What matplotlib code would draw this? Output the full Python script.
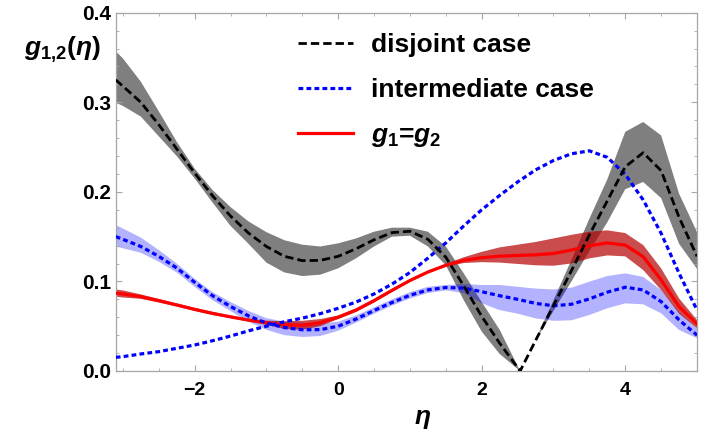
import matplotlib
matplotlib.use('Agg')
import matplotlib.pyplot as plt
from matplotlib.ticker import MultipleLocator, FormatStrFormatter
from matplotlib.lines import Line2D

plt.rcParams['font.family'] = ['Liberation Sans', 'DejaVu Sans']
plt.rcParams['font.weight'] = 'bold'
plt.rcParams['mathtext.fontset'] = 'custom'
plt.rcParams['mathtext.rm'] = 'Liberation Sans:bold'
plt.rcParams['mathtext.bf'] = 'Liberation Sans:bold'
plt.rcParams['mathtext.it'] = 'Liberation Sans:bold:italic'

# ---- data ----
eta = [-3.1, -3.0, -2.75, -2.5, -2.25, -2.0, -1.75, -1.5, -1.25, -1.0, -0.75, -0.5,
       -0.25, 0.0, 0.25, 0.5, 0.75, 1.0, 1.25, 1.5, 1.75, 2.0, 2.25, 2.5,
       2.75, 3.0, 3.25, 3.5, 3.75, 4.0, 4.25, 4.5, 4.75, 5.0]

# g1 = g2 (red)
red_mid = [0.087, 0.086, 0.083, 0.0785, 0.0737, 0.0688, 0.0643, 0.0604, 0.0568, 0.0538, 0.0515, 0.0510,
           0.0540, 0.0600, 0.0680, 0.0785, 0.0900, 0.1010, 0.1105, 0.1180, 0.1235, 0.1265, 0.1282, 0.1290,
           0.1297, 0.1312, 0.1350, 0.1398, 0.1430, 0.1405, 0.1276, 0.1016, 0.0718, 0.0525]
red_lo = [0.083, 0.082, 0.0805, 0.0765, 0.072, 0.067, 0.0625, 0.059, 0.0553, 0.0515, 0.047, 0.046,
          0.050, 0.058, 0.066, 0.0765, 0.0882, 0.0995, 0.109, 0.1165, 0.1205, 0.1215, 0.121, 0.1195,
          0.118, 0.1175, 0.120, 0.1257, 0.129, 0.128, 0.1127, 0.0904, 0.064, 0.0477]
red_hi = [0.091, 0.090, 0.0855, 0.0805, 0.0755, 0.0705, 0.066, 0.062, 0.0585, 0.0562, 0.0555, 0.056,
          0.058, 0.062, 0.070, 0.0805, 0.0918, 0.1025, 0.112, 0.1195, 0.127, 0.133, 0.138, 0.141,
          0.144, 0.148, 0.152, 0.1555, 0.157, 0.154, 0.1406, 0.1146, 0.081, 0.057]

# intermediate case, curve with band (blue)
blue_mid = [0.150, 0.147, 0.139, 0.128, 0.115, 0.099, 0.084, 0.072, 0.0615, 0.0535, 0.0485, 0.0460,
            0.0462, 0.0500, 0.0580, 0.0675, 0.0765, 0.0845, 0.0905, 0.0932, 0.0925, 0.0885, 0.0840, 0.0800,
            0.0755, 0.0728, 0.0745, 0.0805, 0.0880, 0.0935, 0.0905, 0.0774, 0.057, 0.040]
blue_lo = [0.139, 0.137, 0.132, 0.122, 0.110, 0.094, 0.079, 0.067, 0.055, 0.046, 0.040, 0.038,
           0.039, 0.045, 0.054, 0.064, 0.073, 0.081, 0.087, 0.090, 0.087, 0.0756, 0.068, 0.064,
           0.0588, 0.056, 0.0566, 0.0625, 0.070, 0.0755, 0.0744, 0.0644, 0.0458, 0.0365]
blue_hi = [0.163, 0.159, 0.149, 0.135, 0.120, 0.103, 0.088, 0.077, 0.067, 0.059, 0.055, 0.054,
           0.053, 0.055, 0.062, 0.071, 0.080, 0.088, 0.094, 0.096, 0.097, 0.096, 0.096, 0.094,
           0.092, 0.091, 0.093, 0.0997, 0.106, 0.109, 0.105, 0.0904, 0.066, 0.0477]

# intermediate case, second curve (no band)
blue2 = [0.0153, 0.016, 0.019, 0.0216, 0.0253, 0.029, 0.0338, 0.039, 0.0448, 0.050, 0.055, 0.059,
         0.064, 0.070, 0.077, 0.086, 0.097, 0.110, 0.126, 0.143, 0.162, 0.180, 0.196, 0.211,
         0.2245, 0.235, 0.2425, 0.2458, 0.2385, 0.2195, 0.191, 0.1537, 0.109, 0.068]

# disjoint case (black)
eta_dj = [-3.1, -3.0, -2.75, -2.5, -2.25, -2.0, -1.75, -1.5, -1.25, -1.0, -0.75, -0.5,
          -0.25, 0.0, 0.25, 0.5, 0.75, 1.0, 1.25, 1.5, 1.75, 2.0, 2.25, 2.535,
          2.75, 3.0, 3.25, 3.5, 3.75, 4.0, 4.25, 4.5, 4.75, 5.0]
dj_mid = [0.325, 0.318, 0.300, 0.275, 0.248, 0.221, 0.1955, 0.173, 0.154, 0.139, 0.128, 0.1232,
          0.1235, 0.1280, 0.1365, 0.1465, 0.1545, 0.1560, 0.1470, 0.1270, 0.0950, 0.0610, 0.0310, 0.0,
          0.034, 0.073, 0.112, 0.152, 0.190, 0.228, 0.2437, 0.2236, 0.1715, 0.128]
dj_lo = [0.2995, 0.296, 0.284, 0.262, 0.240, 0.215, 0.188, 0.162, 0.142, 0.121, 0.110, 0.106,
         0.1075, 0.1146, 0.1258, 0.139, 0.150, 0.151, 0.139, 0.118, 0.079, 0.044, 0.019, 0.0,
         0.034, 0.067, 0.100, 0.134, 0.166, 0.203, 0.211, 0.193, 0.142, 0.114]
dj_hi = [0.357, 0.349, 0.323, 0.290, 0.256, 0.226, 0.202, 0.183, 0.167, 0.155, 0.146, 0.141,
         0.139, 0.1425, 0.148, 0.1555, 0.160, 0.160, 0.1555, 0.139, 0.109, 0.077, 0.046, 0.0,
         0.034, 0.079, 0.124, 0.170, 0.214, 0.267, 0.278, 0.263, 0.198, 0.155]

labels = ['disjoint case', 'intermediate case', r'$g_1$=$g_2$']

# ---- figure ----
fig = plt.figure(figsize=(7.03, 4.46), dpi=100)
ax = fig.add_axes([0.1646, 0.1682, 0.8269, 0.8033])

BLACK_DASH = (3.0, 1.45)
BLUE_DOT = (1.5, 1.0)

ax.fill_between(eta_dj, dj_lo, dj_hi, facecolor='black', alpha=0.5, lw=0, zorder=1)
ax.fill_between(eta, blue_lo, blue_hi, facecolor='blue', alpha=0.3, lw=0, zorder=1)
ax.fill_between(eta, red_lo, red_hi, facecolor='#b40000', alpha=0.7, lw=0, zorder=1)

ax.plot(eta, red_mid, color='red', lw=2.3, zorder=3)
ax.plot(eta, blue_mid, color='blue', lw=2.3, dashes=BLUE_DOT, zorder=3)
ax.plot(eta, blue2, color='blue', lw=2.3, dashes=BLUE_DOT, zorder=3)
ax.plot(eta_dj, dj_mid, color='black', lw=2.0, dashes=BLACK_DASH, zorder=4)

ax.set_xlim(-3.1, 5.0)
ax.set_ylim(0, 0.4)
ax.xaxis.set_major_locator(MultipleLocator(2))
ax.xaxis.set_minor_locator(MultipleLocator(0.5))
ax.yaxis.set_major_locator(MultipleLocator(0.1))
ax.yaxis.set_minor_locator(MultipleLocator(0.02))
ax.yaxis.set_major_formatter(FormatStrFormatter('%.1f'))

for s in ax.spines.values():
    s.set_color('#a6a6a6')
    s.set_linewidth(0.9)
ax.tick_params(which='both', direction='in', top=True, right=True, color='#a6a6a6')
ax.tick_params(which='major', length=4.5, width=0.8)
ax.tick_params(which='minor', length=2.5, width=0.6)
ax.tick_params(axis='x', which='major', labelsize=14, pad=8)
ax.tick_params(axis='y', which='major', labelsize=15, pad=3.5)
for lab in ax.get_xticklabels() + ax.get_yticklabels():
    lab.set_fontweight('bold')

ax.text(-0.092, 0.896, r'$g_{1{,}2}(\eta)$', transform=ax.transAxes, ha='center', va='center',
        fontsize=19)
ax.text(0.527, -0.135, r'$\eta$', transform=ax.transAxes, ha='center', va='center',
        fontsize=19)

handles = [Line2D([], [], color='black', lw=2.0, dashes=BLACK_DASH),
           Line2D([], [], color='blue', lw=2.3, dashes=BLUE_DOT),
           Line2D([], [], color='red', lw=2.3)]
ax.legend(handles, labels, loc='upper left', bbox_to_anchor=(0.3136, 0.944), frameon=False,
          borderpad=0, borderaxespad=0, handlelength=2.1, handletextpad=0.65,
          labelspacing=0.8, prop={'weight': 'bold', 'size': 19})

fig.savefig('out.png', dpi=100)
